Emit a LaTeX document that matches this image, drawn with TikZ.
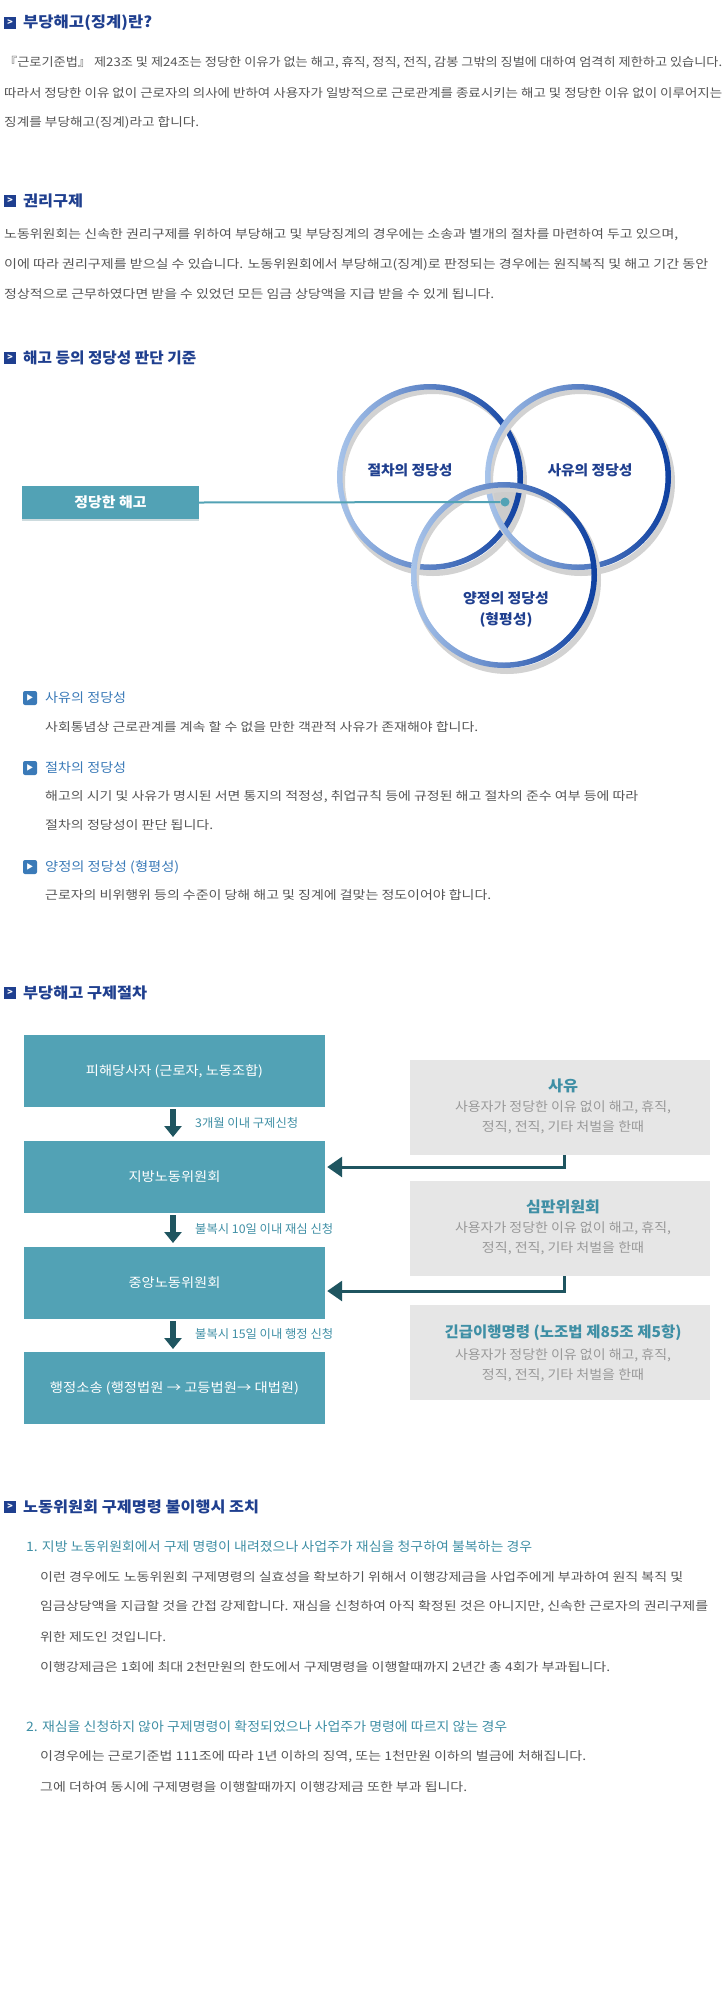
\documentclass[tikz,border=0pt]{standalone}
\usepackage{fontspec}
\usepackage{graphicx}
\setmainfont{Noto Sans CJK KR}
\newfontfamily\kb{Noto Sans CJK KR Bold}
\usetikzlibrary{arrows.meta}
\newcommand\fitto[2]{\resizebox{#1pt}{\height}{#2}}
\definecolor{hblue}{HTML}{1F3F8F}
\definecolor{bodyg}{HTML}{555555}
\definecolor{bblue}{HTML}{3A7AB8}
\definecolor{teal}{HTML}{52A2B5}
\definecolor{dteal}{HTML}{1F5560}
\definecolor{lteal}{HTML}{3F8FA5}
\definecolor{grayb}{HTML}{E6E6E6}
\definecolor{grayt}{HTML}{999999}
\definecolor{ringd}{HTML}{0D3FA0}
\definecolor{ringl}{HTML}{A8C4EA}
\begin{document}
\begin{tikzpicture}[x=1pt,y=-1pt,
 body/.style={anchor=west,inner sep=0,text=bodyg,font=\fontsize{12}{14}\selectfont},
 head/.style={anchor=west,inner sep=0,text=hblue,font=\fontsize{15}{17}\selectfont\bfseries},
 bhead/.style={anchor=west,inner sep=0,text=bblue,font=\fontsize{13}{15}\selectfont},
 ihead/.style={anchor=west,inner sep=0,text=lteal,font=\fontsize{13}{15}\selectfont},
 hicon/.style={fill=hblue,minimum size=12pt,inner sep=0,text=white,font=\fontsize{9}{9}\selectfont\bfseries},
 bicon/.style={fill=bblue,rounded corners=2pt,minimum size=14pt,inner sep=0,text=white,font=\fontsize{7}{7}\selectfont},
 flowbox/.style={fill=teal,inner sep=0,text=white,font=\fontsize{13}{15}\selectfont},
 graybox/.style={fill=grayb,inner sep=0},
 gtitle/.style={inner sep=0,text=lteal,font=\fontsize{15}{17}\selectfont\bfseries},
 gtext/.style={inner sep=0,text=grayt,font=\fontsize{13}{15}\selectfont},
 flab/.style={anchor=west,inner sep=0,text=lteal,font=\fontsize{12}{14}\selectfont},
 clab/.style={inner sep=0,text=hblue,font=\fontsize{14}{16}\selectfont\bfseries},
 downarr/.style={line width=6pt,dteal,-{Triangle[width=17pt,length=11pt]}},
 backarr/.style={line width=3pt,dteal,-{Triangle[width=20pt,length=15pt]}}]
\useasboundingbox (0,0) rectangle (722,2000);
\fill[white] (0,0) rectangle (722,2000);
% Section 1
\node[hicon] (i1) at (10,23) {>};
\node[head] (h1) at (23,23) {\fitto{129}{부당해고(징계)란?}};
\node[body] (t11) at (4,63) {\fitto{718}{『근로기준법』 제23조 및 제24조는 정당한 이유가 없는 해고, 휴직, 정직, 전직, 감봉 그밖의 징벌에 대하여 엄격히 제한하고 있습니다.}};
\node[body] (t12) at (4,93) {\fitto{718}{따라서 정당한 이유 없이 근로자의 의사에 반하여 사용자가 일방적으로 근로관계를 종료시키는 해고 및 정당한 이유 없이 이루어지는}};
\node[body] (t13) at (4,123) {\fitto{195}{징계를 부당해고(징계)라고 합니다.}};
% Section 2
\node[hicon] (i2) at (10,201) {>};
\node[head] (h2) at (23,201) {\fitto{60}{권리구제}};
\node[body] (t21) at (4,235) {\fitto{674}{노동위원회는 신속한 권리구제를 위하여 부당해고 및 부당징계의 경우에는 소송과 별개의 절차를 마련하여 두고 있으며,}};
\node[body] (t22) at (4,265) {\fitto{704}{이에 따라 권리구제를 받으실 수 있습니다. 노동위원회에서 부당해고(징계)로 판정되는 경우에는 원직복직 및 해고 기간 동안}};
\node[body] (t23) at (4,294) {\fitto{490}{정상적으로 근무하였다면 받을 수 있었던 모든 임금 상당액을 지급 받을 수 있게 됩니다.}};
% Section 3
\node[hicon] (i3) at (10,358) {>};
\node[head] (h3) at (23,358) {\fitto{173}{해고 등의 정당성 판단 기준}};
% venn
\begin{scope}
 \clip (430,477) circle (90);
 \clip (578,477) circle (90);
 \fill[gray!40] (504,575) circle (90);
\end{scope}
\foreach \cx/\cy in {430/477,578/477,504/575}{
 \fill[gray!35,even odd rule] (\cx+3,\cy+5) circle (94) (\cx+3,\cy+5) circle (88);
 \shade[even odd rule,shading angle=-45,left color=ringl,right color=ringd] (\cx,\cy) circle (93) (\cx,\cy) circle (87.5);
}
\node[clab] (c1) at (410,470) {\fitto{85}{절차의 정당성}};
\node[clab] (c2) at (590,470) {\fitto{85}{사유의 정당성}};
\node[clab] (c3) at (506,598) {\fitto{86}{양정의 정당성}};
\node[clab] (c4) at (506,620) {\fitto{53}{(형평성)}};
\node[fill=teal,minimum width=177pt,minimum height=33pt,inner sep=0,text=white,font=\fontsize{14}{16}\selectfont\bfseries,drop shadow/.style={}] (jb) at (110.5,502.5) {\fitto{72}{정당한 해고}};
\fill[teal!70!black,opacity=0.25] (22,519) rectangle (199,521);
\node[circle,fill=teal,minimum size=9pt,inner sep=0] (dot) at (505,502) {};
\draw[teal,line width=2pt] (jb.east) -- (dot.west);
% bullets
\node[bicon] (b1) at (30,698) {▶};
\node[bhead] (bh1) at (45,698) {\fitto{81}{사유의 정당성}};
\node[body] (bt1) at (45,727) {\fitto{433}{사회통념상 근로관계를 계속 할 수 없을 만한 객관적 사유가 존재해야 합니다.}};
\node[bicon] (b2) at (30,768) {▶};
\node[bhead] (bh2) at (45,768) {\fitto{81}{절차의 정당성}};
\node[body] (bt2) at (45,797) {\fitto{593}{해고의 시기 및 사유가 명시된 서면 통지의 적정성, 취업규칙 등에 규정된 해고 절차의 준수 여부 등에 따라}};
\node[body] (bt3) at (45,825) {\fitto{168}{절차의 정당성이 판단 됩니다.}};
\node[bicon] (b3) at (30,867) {▶};
\node[bhead] (bh3) at (45,867) {\fitto{134}{양정의 정당성 (형평성)}};
\node[body] (bt4) at (45,895) {\fitto{446}{근로자의 비위행위 등의 수준이 당해 해고 및 징계에 걸맞는 정도이어야 합니다.}};
% Section 4
\node[hicon] (i4) at (10,993) {>};
\node[head] (h4) at (23,993) {\fitto{124}{부당해고 구제절차}};
\node[flowbox,minimum width=301pt,minimum height=72pt] (f1) at (174.5,1071) {\fitto{177}{피해당사자 (근로자, 노동조합)}};
\node[flowbox,minimum width=301pt,minimum height=72pt] (f2) at (174.5,1177) {\fitto{92}{지방노동위원회}};
\node[flowbox,minimum width=301pt,minimum height=72pt] (f3) at (174.5,1283) {\fitto{92}{중앙노동위원회}};
\node[flowbox,minimum width=301pt,minimum height=72pt] (f4) at (174.5,1388) {\fitto{249}{행정소송 (행정법원 → 고등법원→ 대법원)}};
\draw[downarr] (173,1109) -- (173,1137);
\draw[downarr] (173,1215) -- (173,1243);
\draw[downarr] (173,1321) -- (173,1349);
\node[flab] (l1) at (195,1123) {\fitto{103}{3개월 이내 구제신청}};
\node[flab] (l2) at (195,1229) {\fitto{138}{불복시 10일 이내 재심 신청}};
\node[flab] (l3) at (195,1334) {\fitto{138}{불복시 15일 이내 행정 신청}};
\node[graybox,minimum width=300pt,minimum height=95pt] (g1) at (560,1107.5) {};
\node[graybox,minimum width=300pt,minimum height=95pt] (g2) at (560,1228.5) {};
\node[graybox,minimum width=300pt,minimum height=95pt] (g3) at (560,1352.5) {};
\node[gtitle] (g1t) at (563,1086) {\fitto{30}{사유}};
\node[gtext] (g1a) at (563,1107) {\fitto{216}{사용자가 정당한 이유 없이 해고, 휴직,}};
\node[gtext] (g1b) at (563,1127) {\fitto{162}{정직, 전직, 기타 처벌을 한때}};
\node[gtitle] (g2t) at (563,1207) {\fitto{74}{심판위원회}};
\node[gtext] (g2a) at (563,1228) {\fitto{216}{사용자가 정당한 이유 없이 해고, 휴직,}};
\node[gtext] (g2b) at (563,1248) {\fitto{162}{정직, 전직, 기타 처벌을 한때}};
\node[gtitle] (g3t) at (563,1333) {\fitto{237}{긴급이행명령 (노조법 제85조 제5항)}};
\node[gtext] (g3a) at (563,1355) {\fitto{216}{사용자가 정당한 이유 없이 해고, 휴직,}};
\node[gtext] (g3b) at (563,1375) {\fitto{162}{정직, 전직, 기타 처벌을 한때}};
\draw[backarr] (g1.south -| 564,0) |- ([xshift=2pt]f2.east |- 0,1167);
\draw[backarr] (g2.south -| 564,0) |- ([xshift=2pt]f3.east |- 0,1291);
% Section 5
\node[hicon] (i5) at (10,1507) {>};
\node[head] (h5) at (23,1507) {\fitto{236}{노동위원회 구제명령 불이행시 조치}};
\node[ihead] (p1) at (26,1547) {\fitto{506}{1. 지방 노동위원회에서 구제 명령이 내려졌으나 사업주가 재심을 청구하여 불복하는 경우}};
\node[body] (p11) at (40,1577) {\fitto{643}{이런 경우에도 노동위원회 구제명령의 실효성을 확보하기 위해서 이행강제금을 사업주에게 부과하여 원직 복직 및}};
\node[body] (p12) at (40,1607) {\fitto{668}{임금상당액을 지급할 것을 간접 강제합니다. 재심을 신청하여 아직 확정된 것은 아니지만, 신속한 근로자의 권리구제를}};
\node[body] (p13) at (40,1637) {\fitto{126}{위한 제도인 것입니다.}};
\node[body] (p14) at (40,1667) {\fitto{570}{이행강제금은 1회에 최대 2천만원의 한도에서 구제명령을 이행할때까지 2년간 총 4회가 부과됩니다.}};
\node[ihead] (p2) at (26,1727) {\fitto{481}{2. 재심을 신청하지 않아 구제명령이 확정되었으나 사업주가 명령에 따르지 않는 경우}};
\node[body] (p21) at (40,1757) {\fitto{546}{이경우에는 근로기준법 111조에 따라 1년 이하의 징역, 또는 1천만원 이하의 벌금에 처해집니다.}};
\node[body] (p22) at (40,1787) {\fitto{427}{그에 더하여 동시에 구제명령을 이행할때까지 이행강제금 또한 부과 됩니다.}};
\end{tikzpicture}
\end{document}
